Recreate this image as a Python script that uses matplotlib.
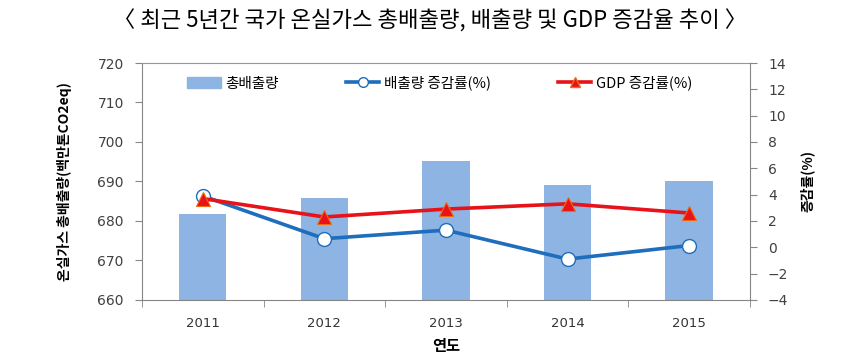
import numpy as np
import matplotlib
matplotlib.use("Agg")
import matplotlib.pyplot as plt
from matplotlib.lines import Line2D
from matplotlib.patches import Patch

plt.rcParams['font.family'] = ['Noto Sans CJK KR', 'DejaVu Sans']

years = ["2011", "2012", "2013", "2014", "2015"]
total_emission = [681.8, 685.9, 695.1, 689.0, 690.2]     # 백만톤CO2eq
emission_rate = [3.9, 0.65, 1.3, -0.9, 0.13]             # %
gdp_rate = [3.7, 2.3, 2.9, 3.3, 2.6]                     # %

BAR = "#8db4e2"
BLUE = "#1f6dbd"
RED = "#e8121b"
GRAY = "#868686"

fig = plt.figure(figsize=(8.6, 3.57), dpi=100)
ax = fig.add_axes([0.165, 0.16, 0.707, 0.6635])
x = np.arange(len(years))

ax.bar(x, total_emission, width=0.39, color=BAR, bottom=0)
ax.set_ylim(660, 720)
ax.set_yticks(range(660, 721, 10))
ax.set_xlim(-0.5, len(years) - 0.5)
ax.set_xticks(x)
ax.set_xticklabels(years)
ax.set_xticks(np.arange(-0.5, len(years), 1), minor=True)
ax.tick_params(axis="x", which="major", length=0, pad=12, labelsize=9.5, labelcolor="#333333")
ax.tick_params(axis="x", which="minor", length=5, color=GRAY)
ax.tick_params(axis="y", length=5, color=GRAY, labelsize=10, labelcolor="#404040", pad=8)
for t in ax.get_yticklabels() + ax.get_xticklabels():
    t.set_family("DejaVu Sans")
ax.spines["left"].set_color(GRAY)
ax.spines["bottom"].set_color(GRAY)
ax.spines["top"].set_color("#6f9fd0")
ax.spines["top"].set_linewidth(0.8)
ax.spines["right"].set_visible(False)

ax2 = ax.twinx()
ax2.set_ylim(-4, 14)
ax2.set_yticks(range(-4, 15, 2))
ax2.tick_params(axis="y", length=5, color=GRAY, labelsize=10, labelcolor="#404040", pad=8)
for t in ax2.get_yticklabels():
    t.set_family("DejaVu Sans")
ax2.spines["right"].set_color(GRAY)
ax2.spines["top"].set_visible(False)
ax2.spines["left"].set_visible(False)
ax2.spines["bottom"].set_visible(False)

ax2.plot(x, emission_rate, color=BLUE, lw=2.6, marker="o", ms=10,
         mfc="white", mec=BLUE, mew=1.0, zorder=3)
ax2.plot(x, gdp_rate, color=RED, lw=2.6, marker="^", ms=10,
         mfc=RED, mec="#f06a10", mew=0.8, zorder=4)

ax.set_ylabel("온실가스 총배출량(백만톤CO2eq)", fontsize=10, fontweight="bold", labelpad=18)
ax2.set_ylabel("증감률(%)", fontsize=10, fontweight="bold", rotation=90, labelpad=8)
ax.set_xlabel("연도", fontsize=11, fontweight="bold", labelpad=6)

handles = [
    Patch(color=BAR),
    Line2D([], [], color=BLUE, lw=2.6, marker="o", ms=7, mfc="white", mec=BLUE),
    Line2D([], [], color=RED, lw=2.6, marker="^", ms=7, mfc=RED, mec="#f06a10"),
]
labels = ["총배출량", "배출량 증감률(%)", "GDP 증감률(%)"]
ax2.legend(handles, labels, loc="center", bbox_to_anchor=(0.49, 0.915), ncol=3,
           frameon=False, fontsize=10.5, handlelength=2.3, handletextpad=0.3,
           columnspacing=4.6)

fig.text(0.5, 0.94, "〈 최근 5년간 국가 온실가스 총배출량, 배출량 및 GDP 증감율 추이 〉",
         ha="center", va="center", fontsize=16)

fig.savefig("out.png", dpi=100)
